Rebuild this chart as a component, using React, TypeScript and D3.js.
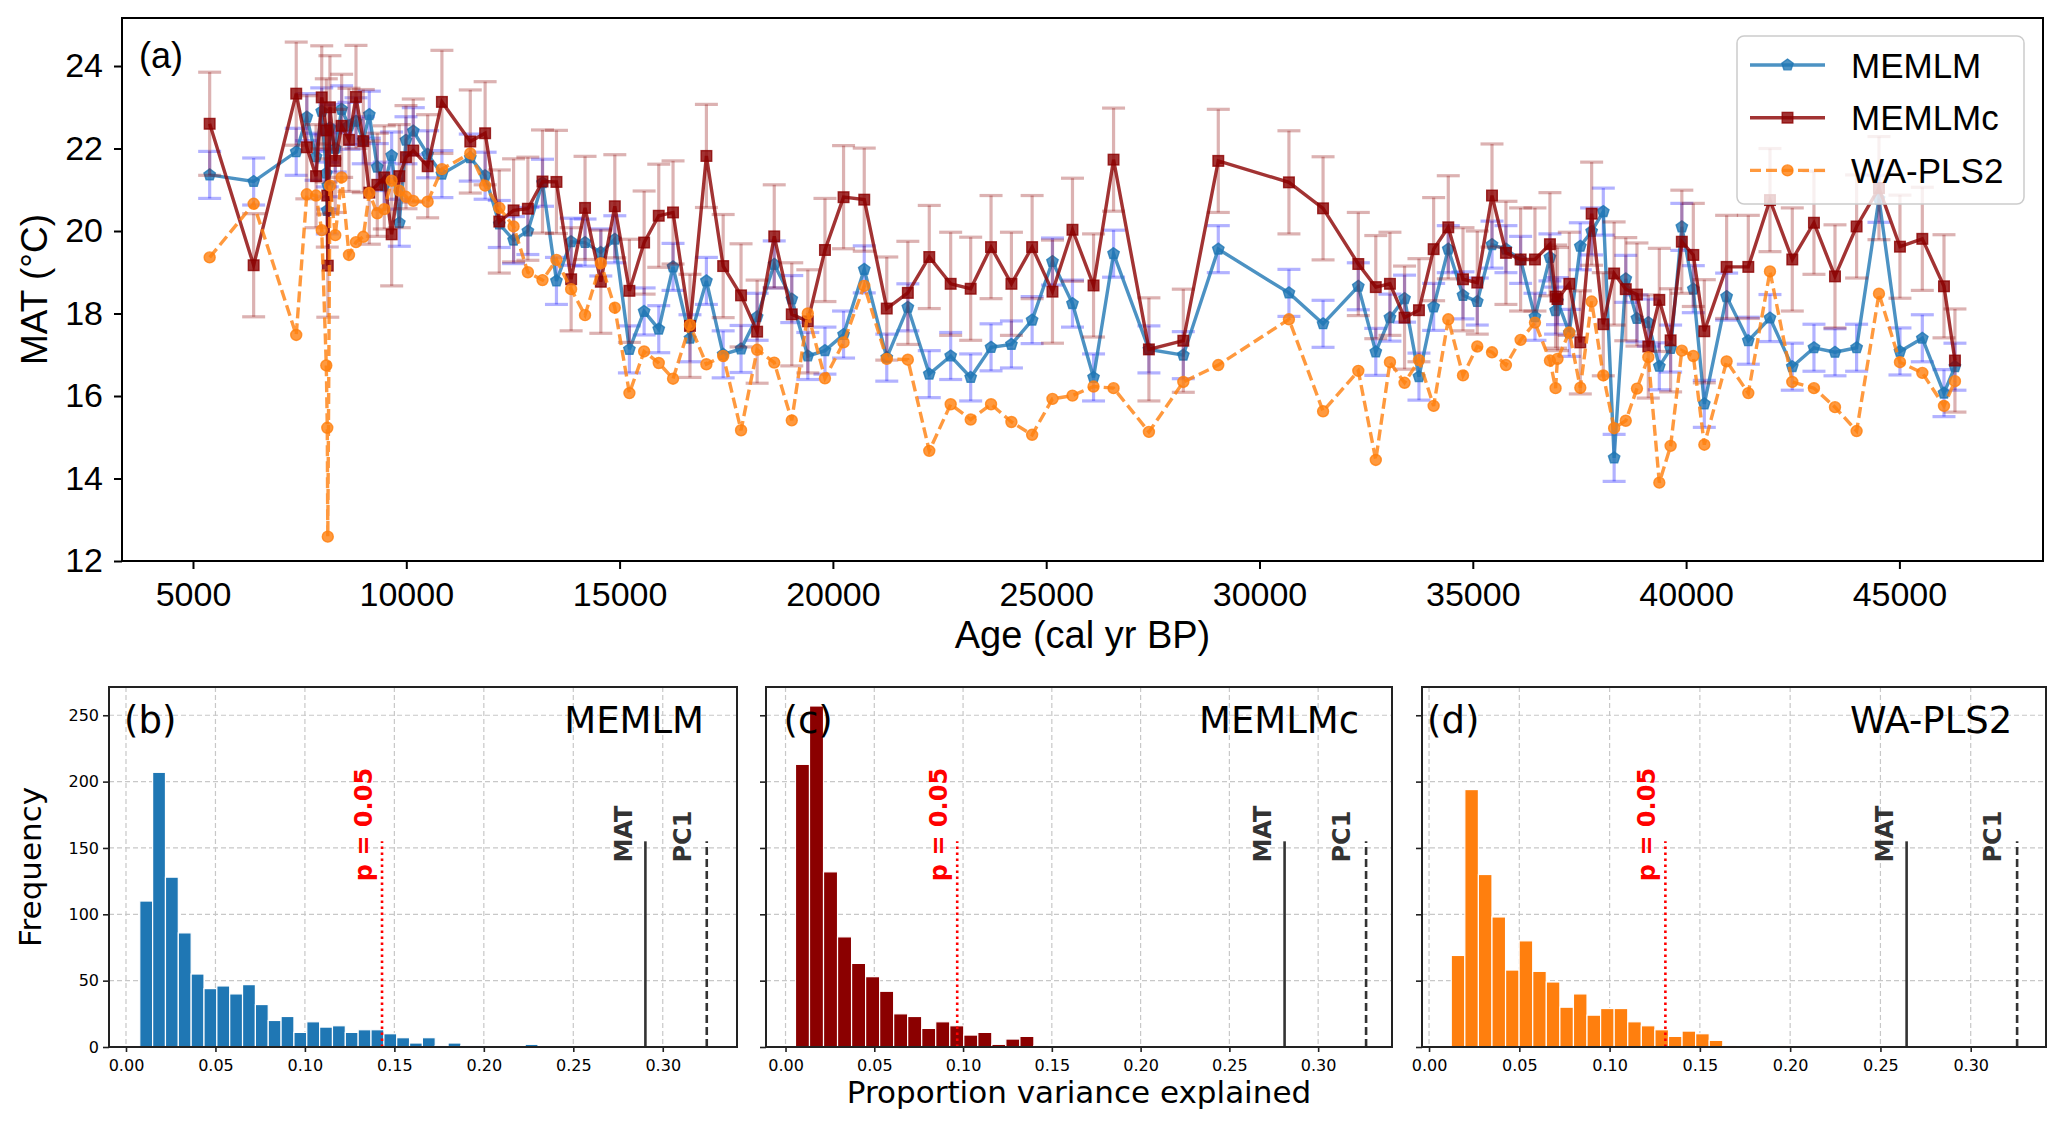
import React, { useEffect, useRef } from 'react'
import * as d3 from 'd3'

// Sample ages (cal yr BP), shared by the three reconstructions
const ages = [
  5391, 6422, 7420, 7668, 7885, 8018, 8125, 8148, 8160, 8210,
  8335, 8485, 8657, 8821, 8992, 9133, 9320, 9484, 9657, 9836,
  9993, 10164, 10501, 10835, 11500, 11848, 12180, 12515, 12850, 13193,
  13520, 13864, 14190, 14560, 14888, 15230, 15575, 15918, 16253, 16650,
  17035, 17428, 17847, 18224, 18625, 19036, 19412, 19814, 20250, 20735,
  21263, 21757, 22259, 22761, 23230, 23707, 24185, 24670, 25147, 25616,
  26110, 26579, 27408, 28214, 29034, 30690, 31490, 32316, 32726, 33058,
  33400, 33738, 34082, 34425, 34770, 35105, 35450, 35777, 36121, 36457,
  36808, 36940, 36985, 37262, 37520, 37786, 38059, 38313, 38586, 38848,
  39114, 39372, 39637, 39900, 40169, 40427, 40950, 41458, 41966, 42489,
  42997, 43490, 43997, 44521, 45013, 45537, 46045, 46302,
]

// MAT reconstructions (°C)
const memlm = [
  21.36, 21.2, 21.92, 22.76, 21.8, 22.9, 21.4, 20.5, 21.1, 22.5,
  22.0, 22.95, 22.55, 22.66, 22.2, 22.82, 21.55, 21.1, 21.83, 20.2,
  22.2, 22.42, 21.86, 21.38, 21.78, 21.34, 20.17, 19.78, 20.0, 21.17,
  18.79, 19.74, 19.72, 19.48, 19.8, 17.13, 18.05, 17.62, 19.13, 17.4,
  18.79, 17.01, 17.14, 17.92, 19.19, 18.35, 16.97, 17.1, 17.49, 19.07,
  16.93, 18.15, 16.53, 16.97, 16.45, 17.18, 17.25, 17.84, 19.26, 18.24,
  16.45, 19.45, 17.13, 16.99, 19.56, 18.5, 17.75, 18.66, 17.07, 17.9,
  18.36, 16.47, 18.16, 19.56, 18.44, 18.29, 19.67, 19.56, 19.3, 17.92,
  19.36, 18.07, 18.3, 17.53, 19.63, 19.99, 20.47, 14.5, 18.84, 17.88,
  17.78, 16.72, 17.15, 20.1, 18.59, 15.81, 18.41, 17.34, 17.89, 16.71,
  17.17, 17.06, 17.17, 20.78, 17.08, 17.4, 16.07, 16.71,
]
const memlmc = [
  22.6, 19.17, 23.33, 22.03, 21.33, 23.24, 22.44, 20.86, 19.16, 23.0,
  21.7, 22.55, 22.21, 23.25, 22.18, 20.93, 21.12, 21.3, 19.92, 21.33,
  21.79, 21.95, 21.57, 23.13, 22.17, 22.37, 20.23, 20.5, 20.54, 21.2,
  21.19, 18.83, 20.56, 18.77, 20.6, 18.55, 19.72, 20.37, 20.45, 17.7,
  21.82, 19.15, 18.44, 17.56, 19.87, 17.98, 17.81, 19.54, 20.82, 20.76,
  18.12, 18.5, 19.37, 18.72, 18.6, 19.61, 18.72, 19.61, 18.53, 20.03,
  18.68, 21.73, 17.13, 17.34, 21.7, 21.18, 20.55, 19.2, 18.64, 18.72,
  17.9, 18.08, 19.56, 20.09, 18.83, 18.75, 20.86, 19.47, 19.31, 19.31,
  19.68, 18.41, 18.35, 18.72, 17.3, 20.42, 17.74, 18.97, 18.59, 18.46,
  17.2, 18.33, 17.35, 19.74, 19.42, 17.57, 19.13, 19.13, 20.75, 19.31,
  20.2, 18.9, 20.11, 21.04, 19.62, 19.81, 18.66, 16.86,
]
const waPls2 = [
  19.36, 20.66, 17.48, 20.89, 20.86, 20.02, 16.74, 15.23, 12.59, 21.1,
  19.9, 21.3, 19.42, 19.73, 19.86, 20.92, 20.43, 20.53, 21.22, 20.98,
  20.83, 20.73, 20.71, 21.5, 21.88, 21.1, 20.56, 20.11, 19.0, 18.81,
  19.3, 18.59, 17.96, 19.22, 18.14, 16.07, 17.08, 16.8, 16.42, 17.72,
  16.77, 16.97, 15.17, 17.12, 16.81, 15.41, 18.0, 16.43, 17.3, 18.67,
  16.9, 16.88, 14.67, 15.8, 15.43, 15.8, 15.37, 15.06, 15.93, 16.01,
  16.23, 16.19, 15.13, 16.34, 16.75, 17.86, 15.63, 16.61, 14.45, 16.82,
  16.32, 16.87, 15.76, 17.86, 16.5, 17.2, 17.06, 16.75, 17.36, 17.78,
  16.86, 16.19, 16.9, 17.54, 16.2, 18.29, 16.5, 15.22, 15.4, 16.18,
  16.94, 13.9, 14.79, 17.1, 16.97, 14.82, 16.84, 16.07, 19.02, 16.34,
  16.19, 15.73, 15.15, 18.48, 16.82, 16.56, 15.76, 16.36,
]
// error bar half-widths (°C)
const memlmErr = 0.57
const memlmcErr = 1.25

const ageTicks = [5000, 10000, 15000, 20000, 25000, 30000, 35000, 40000, 45000]
const matTicks = [12, 14, 16, 18, 20, 22, 24]

// Permutation test histograms (frequency per bin)
const countsMEMLM = [110, 207, 128, 86, 55, 44, 46, 40, 47, 32, 20, 23, 11, 19, 15, 16, 11, 13, 13, 10, 7, 3, 7, 1, 3, 1, 1, 0, 0, 0, 2]
const countsMEMLMc = [213, 257, 132, 83, 63, 53, 42, 25, 23, 14, 19, 16, 9, 11, 2, 6, 8, 1]
const countsWAPLS2 = [69, 194, 130, 98, 58, 80, 57, 49, 30, 40, 24, 29, 29, 19, 16, 13, 8, 12, 10, 5, 1, 0, 1, 0, 1]
const binStarts = [0.0077, 0.0056, 0.0123]
const binWidths = [0.00718, 0.0079, 0.00752]
const pCritical = [0.1431, 0.0967, 0.1309]
const matExplained = [0.2903, 0.2811, 0.2645]
const pc1Explained = [0.3246, 0.327, 0.3257]
const refLineHeight = 155

const propTicks = [0, 0.05, 0.1, 0.15, 0.2, 0.25, 0.3]
const freqTicks = [0, 50, 100, 150, 200, 250]

const W = 2067
const H = 1130
const blue = '#1f77b4'
const red = '#8b0000'
const orange = '#ff7f0e'
const arial = 'Liberation Sans, Arial, Helvetica, sans-serif'
const dejavu = 'DejaVu Sans, Verdana, sans-serif'

const pentagon = r => {
  const pts = d3.range(5).map(k => {
    const a = -Math.PI / 2 + (k * 2 * Math.PI) / 5
    return [r * Math.cos(a), r * Math.sin(a)]
  })
  return 'M' + pts.map(p => p.join(',')).join('L') + 'Z'
}

const addMarker = (g, kind, cx, cy, color) => {
  let m
  if (kind === 'square') {
    m = g.append('rect').attr('x', cx - 5.3).attr('y', cy - 5.3).attr('width', 10.6).attr('height', 10.6)
  } else if (kind === 'circle') {
    m = g.append('circle').attr('cx', cx).attr('cy', cy).attr('r', 5.5)
  } else {
    m = g.append('path').attr('d', pentagon(6)).attr('transform', `translate(${cx},${cy})`)
  }
  m.attr('fill', color)
    .attr('fill-opacity', 0.8)
    .attr('stroke', color)
    .attr('stroke-opacity', 0.8)
    .attr('stroke-width', 1.4)
}

const series = [
  { name: 'MEMLM', values: memlm, err: memlmErr, color: blue, errColor: 'blue', marker: 'pentagon', dash: null },
  { name: 'MEMLMc', values: memlmc, err: memlmcErr, color: red, errColor: red, marker: 'square', dash: null },
  { name: 'WA-PLS2', values: waPls2, err: null, color: orange, errColor: null, marker: 'circle', dash: '11,5' },
]

function drawTop(svg) {
  const left = 122, right = 2043, top = 18, bottom = 561
  const x = d3.scaleLinear().domain([3336, 48366]).range([left, right])
  const y = d3.scaleLinear().domain([12, 25.164]).range([bottom, top])
  const g = svg.append('g')

  series.forEach(s => {
    if (s.err) {
      const eb = g.append('g').attr('stroke', s.errColor).attr('stroke-opacity', 0.3).attr('stroke-width', 3.2)
      ages.forEach((a, i) => {
        const cx = x(a)
        const lo = y(s.values[i] - s.err)
        const hi = y(s.values[i] + s.err)
        eb.append('line').attr('x1', cx).attr('x2', cx).attr('y1', lo).attr('y2', hi)
        eb.append('line').attr('x1', cx - 11.5).attr('x2', cx + 11.5).attr('y1', lo).attr('y2', lo)
        eb.append('line').attr('x1', cx - 11.5).attr('x2', cx + 11.5).attr('y1', hi).attr('y2', hi)
      })
    }
    const line = d3
      .line()
      .x((d, i) => x(ages[i]))
      .y(d => y(d))
    g.append('path')
      .datum(s.values)
      .attr('d', line)
      .attr('fill', 'none')
      .attr('stroke', s.color)
      .attr('stroke-opacity', 0.8)
      .attr('stroke-width', 3.4)
      .attr('stroke-dasharray', s.dash)
    const mg = g.append('g')
    s.values.forEach((v, i) => addMarker(mg, s.marker, x(ages[i]), y(v), s.color))
  })

  // axes
  const gx = svg
    .append('g')
    .attr('transform', `translate(0,${bottom})`)
    .call(d3.axisBottom(x).tickValues(ageTicks).tickSize(8).tickPadding(13).tickFormat(d3.format('d')))
  const gy = svg
    .append('g')
    .attr('transform', `translate(${left},0)`)
    .call(d3.axisLeft(y).tickValues(matTicks).tickSize(8).tickPadding(11))
  ;[gx, gy].forEach(ax => {
    ax.select('.domain').remove()
    ax.selectAll('line').attr('stroke', '#000').attr('stroke-width', 2)
    ax.selectAll('text').attr('font-family', arial).attr('font-size', 34).attr('fill', '#000')
  })

  svg.append('rect')
    .attr('x', left).attr('y', top)
    .attr('width', right - left).attr('height', bottom - top)
    .attr('fill', 'none').attr('stroke', '#000').attr('stroke-width', 2)

  svg.append('text')
    .attr('x', 139).attr('y', 68)
    .attr('font-family', arial).attr('font-size', 36)
    .text('(a)')

  svg.append('text')
    .attr('x', (left + right) / 2).attr('y', 648)
    .attr('text-anchor', 'middle')
    .attr('font-family', arial).attr('font-size', 38)
    .text('Age (cal yr BP)')

  svg.append('text')
    .attr('transform', `translate(47,${(top + bottom) / 2}) rotate(-90)`)
    .attr('text-anchor', 'middle')
    .attr('font-family', arial).attr('font-size', 37)
    .text('MAT (°C)')

  // legend
  const lg = svg.append('g')
  lg.append('rect')
    .attr('x', 1737).attr('y', 36).attr('width', 287).attr('height', 168).attr('rx', 7)
    .attr('fill', '#fff').attr('fill-opacity', 0.8)
    .attr('stroke', '#ccc').attr('stroke-width', 1.5)
  series.forEach((s, i) => {
    const ly = 65 + i * 52.7
    lg.append('line')
      .attr('x1', 1750).attr('x2', 1825).attr('y1', ly).attr('y2', ly)
      .attr('stroke', s.color).attr('stroke-opacity', 0.8).attr('stroke-width', 3.4)
      .attr('stroke-dasharray', s.dash)
    addMarker(lg, s.marker, 1787.5, ly, s.color)
    lg.append('text')
      .attr('x', 1851).attr('y', ly).attr('dy', '0.36em')
      .attr('font-family', arial).attr('font-size', 35)
      .text(s.name)
  })
}

const panels = [
  { tag: '(b)', name: 'MEMLM', counts: countsMEMLM, color: blue, left: 109, right: 737, domain: [-0.0095, 0.3415], yLabels: true },
  { tag: '(c)', name: 'MEMLMc', counts: countsMEMLMc, color: red, left: 766, right: 1392, domain: [-0.011, 0.3416], yLabels: false },
  { tag: '(d)', name: 'WA-PLS2', counts: countsWAPLS2, color: orange, left: 1422, right: 2046, domain: [-0.0039, 0.3417], yLabels: false },
]

function drawHist(svg, p, k) {
  const top = 687, bottom = 1047
  const x = d3.scaleLinear().domain(p.domain).range([p.left, p.right])
  const y = d3.scaleLinear().domain([0, 271.3]).range([bottom, top])
  const g = svg.append('g')

  // grid
  const grid = g.append('g').attr('stroke', '#c8c8c8').attr('stroke-width', 1.2).attr('stroke-dasharray', '5,3')
  propTicks.forEach(t => grid.append('line').attr('x1', x(t)).attr('x2', x(t)).attr('y1', top).attr('y2', bottom))
  freqTicks.forEach(t => grid.append('line').attr('x1', p.left).attr('x2', p.right).attr('y1', y(t)).attr('y2', y(t)))

  // bars
  const bins = p.counts.map((c, i) => ({ x0: binStarts[k] + i * binWidths[k], x1: binStarts[k] + (i + 1) * binWidths[k], c }))
  g.append('g')
    .selectAll('rect')
    .data(bins.filter(b => b.c > 0))
    .join('rect')
    .attr('x', b => x(b.x0))
    .attr('width', b => x(b.x1) - x(b.x0))
    .attr('y', b => y(b.c))
    .attr('height', b => y(0) - y(b.c))
    .attr('fill', p.color)
    .attr('stroke', '#fff')
    .attr('stroke-width', 1.2)

  // reference lines
  const refs = [
    { v: pCritical[k], color: 'red', dash: '2.5,3.5', label: 'p = 0.05', off: -0.0055, start: 125 },
    { v: matExplained[k], color: '#333', dash: null, label: 'MAT', off: -0.0075, start: 139 },
    { v: pc1Explained[k], color: '#333', dash: '8,4', label: 'PC1', off: -0.009, start: 139 },
  ]
  refs.forEach(r => {
    g.append('line')
      .attr('x1', x(r.v)).attr('x2', x(r.v)).attr('y1', y(0)).attr('y2', y(refLineHeight))
      .attr('stroke', r.color).attr('stroke-width', 2.6).attr('stroke-dasharray', r.dash)
    g.append('text')
      .attr('transform', `translate(${x(r.v + r.off)},${y(r.start)}) rotate(-90)`)
      .attr('font-family', dejavu).attr('font-weight', 'bold').attr('font-size', 24)
      .attr('fill', r.color)
      .text(r.label)
  })

  g.append('text')
    .attr('x', x(0) - 2).attr('y', 733)
    .attr('font-family', dejavu).attr('font-size', 37)
    .text(p.tag)
  g.append('text')
    .attr('x', x(0.3225) + 1).attr('y', 733)
    .attr('text-anchor', 'end')
    .attr('font-family', dejavu).attr('font-size', 37)
    .text(p.name)

  // axes
  const gx = svg
    .append('g')
    .attr('transform', `translate(0,${bottom})`)
    .call(d3.axisBottom(x).tickValues(propTicks).tickSize(5).tickPadding(8).tickFormat(d3.format('.2f')))
  const gy = svg
    .append('g')
    .attr('transform', `translate(${p.left},0)`)
    .call(d3.axisLeft(y).tickValues(freqTicks).tickSize(6).tickPadding(4).tickFormat(p.yLabels ? d3.format('d') : () => ''))
  ;[gx, gy].forEach(ax => {
    ax.select('.domain').remove()
    ax.selectAll('line').attr('stroke', '#222').attr('stroke-width', 1.6)
    ax.selectAll('text').attr('font-family', dejavu).attr('font-size', 16).attr('fill', '#000')
  })

  svg.append('rect')
    .attr('x', p.left).attr('y', top)
    .attr('width', p.right - p.left).attr('height', bottom - top)
    .attr('fill', 'none').attr('stroke', '#222').attr('stroke-width', 2)
}

const App = () => {
  const ref = useRef(null)

  useEffect(() => {
    const svg = d3.select(ref.current)
    svg.selectAll('*').remove()
    svg.append('rect').attr('width', W).attr('height', H).attr('fill', '#fff')
    drawTop(svg)
    panels.forEach((p, k) => drawHist(svg, p, k))

    svg.append('text')
      .attr('transform', `translate(41,867) rotate(-90)`)
      .attr('text-anchor', 'middle')
      .attr('font-family', dejavu).attr('font-size', 31)
      .text('Frequency')
    svg.append('text')
      .attr('x', 1079).attr('y', 1103)
      .attr('text-anchor', 'middle')
      .attr('font-family', dejavu).attr('font-size', 31)
      .text('Proportion variance explained')
  }, [])

  return <svg ref={ref} width={W} height={H} style={{ position: 'absolute', left: 0, top: 0 }} />
}

export default App
